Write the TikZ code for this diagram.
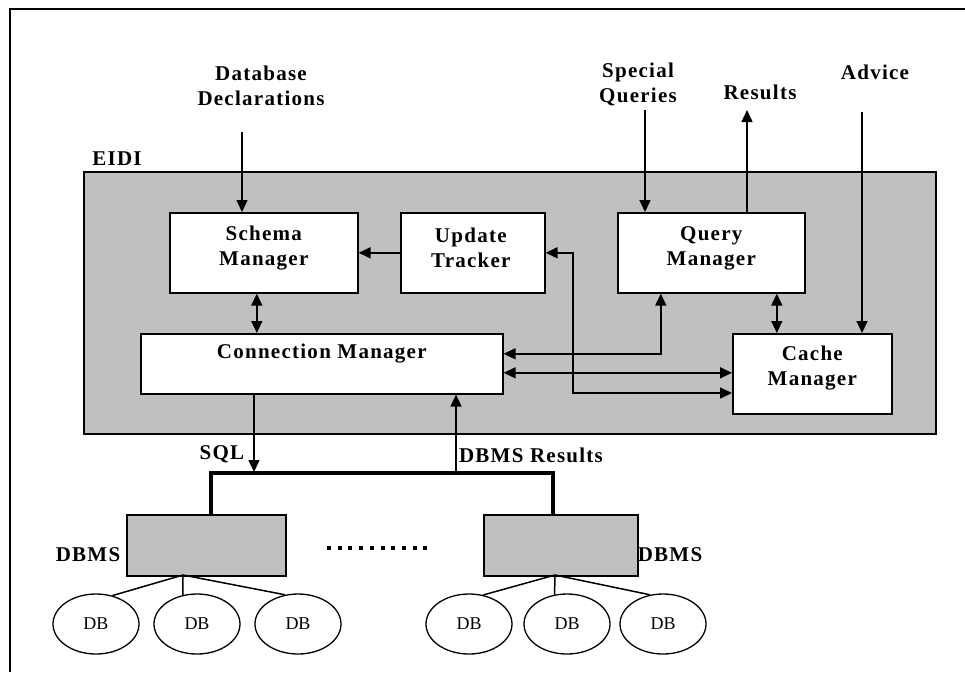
\documentclass[tikz,border=0pt]{standalone}
\usepackage{fontspec}
\setmainfont{Liberation Serif}
\newfontfamily\lblfont{Liberation Serif}[LetterSpace=6]
\usetikzlibrary{arrows.meta,shapes.geometric}
\definecolor{eidigray}{RGB}{192,192,192}
\tikzset{
  frame/.style={line width=1.8pt},
  panel/.style={draw, fill=eidigray, line width=1.6pt, anchor=north west, inner sep=0pt},
  box/.style={draw, fill=white, line width=1.6pt, anchor=north west, inner sep=0pt},
  lbl/.style={font=\lblfont\bfseries\fontsize{21}{25}\selectfont, align=center, inner sep=0pt},
  dblbl/.style={font=\fontsize{18}{20}\selectfont},
  conn/.style={line width=1.5pt},
  tip/.tip={Triangle[length=12pt,width=11pt]},
  arr/.style={conn, -tip},
  darr/.style={conn, tip-tip},
  bus/.style={line width=3.5pt},
  db/.style={ellipse, draw, line width=1.3pt, minimum width=86pt, minimum height=60pt, inner sep=0pt, dblbl},
}
\begin{document}
\begin{tikzpicture}[x=1pt,y=-1pt]
\useasboundingbox (0,0) rectangle (965,672);
\fill[white] (0,0) rectangle (965,672);
\draw[frame] (10,672) -- (10,9) -- (965,9);

% the EIDI system panel
\node[panel, minimum width=852pt, minimum height=262pt] (eidi) at (83,171) {};
\node[lbl] (eidilbl) at (117,159) {EIDI};

% components
\node[box, minimum width=188pt, minimum height=80pt] (schema) at (169,212) {};
\node[box, minimum width=144pt, minimum height=80pt] (update) at (400,212) {};
\node[box, minimum width=187pt, minimum height=80pt] (query) at (617,212) {};
\node[box, minimum width=362pt, minimum height=60pt] (connm) at (140,333) {};
\node[box, minimum width=159pt, minimum height=80pt] (cache) at (732,333) {};

\node[lbl] (schematxt) at ([yshift=4.5pt]schema.center) {Schema\\Manager};
\node[lbl] (updatetxt) at ([yshift=4.5pt,xshift=-2pt]update.center) {Update\\Tracker};
\node[lbl] (querytxt) at ([yshift=4.5pt]query.center) {Query\\Manager};
\node[lbl] (connmtxt) at ([yshift=10pt]connm.center) {Connection Manager};
\node[lbl] (cachetxt) at ([yshift=5.5pt]cache.center) {Cache\\Manager};

% external inputs and outputs
\node[lbl] (decl) at (261,85.5) {Database\\Declarations};
\node[lbl] (special) at (638,84.5) {Special\\Queries};
\node[lbl] (results) at (760,92) {Results};
\node[lbl] (advice) at (875,72) {Advice};

\coordinate (declin) at (242,132);
\coordinate (specin) at (645,110);
\coordinate (resout) at (747,110);
\coordinate (advin) at (862,112);
\draw[arr] (declin) -- (declin |- schema.north);
\draw[arr] (specin) -- (specin |- query.north);
\draw[arr] (resout |- query.north) -- (resout);
\draw[arr] (advin) -- (advin |- cache.north);

% internal connections
\draw[arr] (update.west) -- (schema.east);
\draw[darr] ([xshift=-7pt]schema.south) -- ([xshift=-7pt]schema.south |- connm.north);
\draw[darr] ([xshift=65.5pt]query.south) -- ([xshift=65.5pt]query.south |- cache.north);
\draw[darr] ([yshift=10pt]connm.east) -| ([xshift=-50.5pt]query.south);
\draw[darr] ([yshift=-9pt]connm.east) -- ([yshift=-9pt]connm.east -| cache.west);
\coordinate (utbend) at (573,393);
\draw[darr] (update.east) -| (utbend) -- (utbend -| cache.west);

% database side
\node[panel, minimum width=159pt, minimum height=61pt] (dbmsL) at (126,514) {};
\node[panel, minimum width=154pt, minimum height=61pt] (dbmsR) at (483,514) {};
\node[lbl] (dbmsLlbl) at (88,555) {DBMS};
\node[lbl] (dbmsRlbl) at (670,555) {DBMS};

\coordinate (busL) at (211,473);
\coordinate (busR) at (553,473);
\draw[bus] (busL |- dbmsL.north) -- (busL) -- (busR) -- (busR |- dbmsR.north);

\coordinate (sqlend) at (254,472);
\draw[arr] (sqlend |- connm.south) -- (sqlend);
\coordinate (resstart) at (456,472);
\draw[arr] (resstart) -- (resstart |- connm.south);
\node[lbl] (sqllbl) at (222,454) {SQL};
\node[lbl] (dbresl) at (531,455) {DBMS Results};

\coordinate (dotsA) at (327,548);
\coordinate (dotsB) at (428,548);
\draw[line width=4pt, dash pattern=on 4pt off 6.7pt] (dotsA) -- (dotsB);

\node[db] (dbL1) at (96,624) {DB};
\node[db] (dbL2) at (197,624) {DB};
\node[db] (dbL3) at (298,624) {DB};
\node[db] (dbR1) at (469,624) {DB};
\node[db] (dbR2) at (567,624) {DB};
\node[db] (dbR3) at (663,624) {DB};

\coordinate (fanL) at (183,575);
\coordinate (fanR) at (555,575);
\draw[conn] (fanL) -- (dbL1.60);
\draw[conn] (fanL) -- (dbL2.116);
\draw[conn] (fanL) -- (dbL3.114);
\draw[conn] (fanR) -- (dbR1.64);
\draw[conn] (fanR) -- (dbR2.113);
\draw[conn] (fanR) -- (dbR3.114);
\end{tikzpicture}
\end{document}
